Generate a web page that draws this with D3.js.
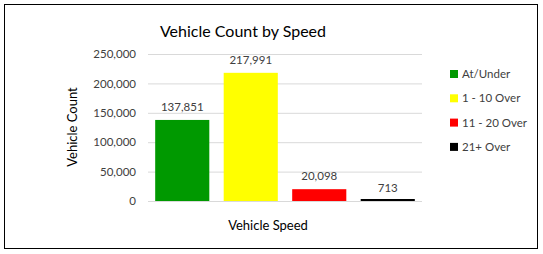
<!DOCTYPE html>
<html><head><meta charset="utf-8">
<script src="https://cdn.jsdelivr.net/npm/d3@7"></script>
<style>body{margin:0;background:#fff;} text{font-family:Lato,"Open Sans",sans-serif;}</style>
</head><body>
<svg id="c" width="543" height="254"></svg>
<script>
const categories = ["At/Under", "1 - 10 Over", "11 - 20 Over", "21+ Over"];
const values = [137851, 217991, 20098, 713];
const colors = ["#009900", "#ffff00", "#ff0000", "#000000"];
const yTicks = [0, 50000, 100000, 150000, 200000, 250000];

(function () {
const svg = d3.select("#c");
svg.append("rect").attr("x", 4.5).attr("y", 4.5).attr("width", 533).attr("height", 244)
  .attr("fill", "#fff").attr("stroke", "#000").attr("stroke-width", 1);

const mLeft = 148, mRight = 422, mTop = 54, mBottom = 201;
const x = d3.scaleBand().domain(categories).range([mLeft, mRight]).paddingInner(0.21).paddingOuter(0.105);
const y = d3.scaleLinear().domain([0, 250000]).range([mBottom, mTop]);
const fmt = d3.format(",");

const yAxis = d3.axisLeft(y).tickValues(yTicks).tickFormat(fmt).tickSize(-(mRight - mLeft)).tickPadding(12);
const gy = svg.append("g").attr("transform", `translate(${mLeft},0)`).call(yAxis);
gy.select(".domain").remove();
gy.selectAll(".tick line").attr("stroke", "#d9d9d9");
gy.selectAll(".tick text").attr("fill", "#404040").style("font-size", "11.5px").style("font-family", "Lato");

svg.append("g").selectAll("rect").data(values).join("rect")
  .attr("x", (d, i) => x(categories[i]))
  .attr("width", x.bandwidth())
  .attr("y", d => Math.min(y(d), y(0) - 2))
  .attr("height", d => Math.max(2, y(0) - y(d)))
  .attr("fill", (d, i) => colors[i]);

svg.append("g").selectAll("text").data(values).join("text")
  .attr("x", (d, i) => x(categories[i]) + x.bandwidth() / 2)
  .attr("y", d => y(d) - 9)
  .attr("text-anchor", "middle")
  .attr("fill", "#404040").style("font-size", "11.5px")
  .text(d => fmt(d));

svg.append("text").attr("x", 243).attr("y", 37).attr("text-anchor", "middle")
  .attr("fill", "#000").style("font-size", "16px").text("Vehicle Count by Speed");

svg.append("text").attr("transform", "translate(77,127) rotate(-90)").attr("text-anchor", "middle")
  .attr("fill", "#000").style("font-size", "13px").text("Vehicle Count");

svg.append("text").attr("x", 268).attr("y", 230).attr("text-anchor", "middle")
  .attr("fill", "#000").style("font-size", "13px").text("Vehicle Speed");

const lg = svg.append("g").selectAll("g").data(categories).join("g")
  .attr("transform", (d, i) => `translate(450,${74 + i * 24.3})`);
lg.append("rect").attr("x", 0).attr("y", -4).attr("width", 8).attr("height", 8).attr("fill", (d, i) => colors[i]);
lg.append("text").attr("x", 12).attr("y", 4).attr("fill", "#404040").style("font-size", "11.5px").text(d => d);
})();
</script>
</body></html>
